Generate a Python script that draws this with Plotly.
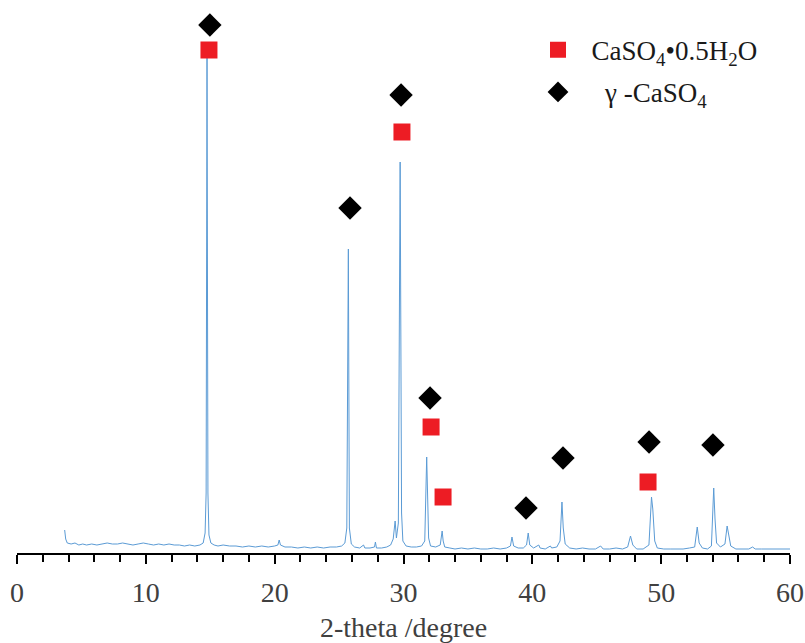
import plotly.graph_objects as go

# XRD pattern (2-theta in degrees, intensity in arbitrary units)
two_theta = [3.70, 3.78, 3.9, 4.2, 4.5, 4.8, 5.1, 5.4, 5.8, 6.2, 6.6, 7.0, 7.4, 7.8, 8.2, 8.6, 9.0, 9.4,
             9.8, 10.2, 10.6, 11.0, 11.4, 11.8, 12.2, 12.6, 13.0, 13.4, 13.8, 14.2, 14.45, 14.6, 14.68, 14.75,
             14.82, 14.9, 15.05, 15.3, 15.6, 16.0, 16.5, 17.0, 17.5, 18.0, 18.5, 19.0, 19.5, 20.0, 20.25,
             20.35, 20.45, 20.8, 21.3, 21.8, 22.3, 22.8, 23.3, 23.8, 24.3, 24.8, 25.2, 25.45, 25.6, 25.72,
             25.8, 25.95, 26.2, 26.6, 26.9, 27.0, 27.4, 27.75, 27.82, 27.9, 28.3, 28.7, 29.0, 29.2, 29.35,
             29.45, 29.6, 29.74, 29.8, 29.85, 29.95, 30.2, 30.6, 31.0, 31.4, 31.65, 31.8, 31.87, 31.95, 32.1,
             32.5, 32.85, 33.0, 33.08, 33.2, 33.6, 34.0, 34.5, 35.0, 35.5, 36.0, 36.5, 37.0, 37.5, 38.0,
             38.3, 38.42, 38.55, 38.9, 39.3, 39.55, 39.68, 39.8, 40.1, 40.5, 40.6, 41.0, 41.4, 41.5, 41.9,
             42.15, 42.3, 42.4, 42.55, 42.9, 43.4, 43.9, 44.4, 44.9, 45.3, 45.5, 46.0, 46.5, 47.0, 47.4,
             47.62, 47.8, 48.1, 48.6, 49.05, 49.25, 49.35, 49.5, 49.7, 50.2, 50.7, 51.2, 51.7, 52.2, 52.6,
             52.8, 52.95, 53.2, 53.6, 53.9, 54.08, 54.18, 54.3, 54.6, 54.95, 55.12, 55.25, 55.4, 55.8, 56.3,
             56.8, 57.1, 57.3, 57.8, 58.3, 58.8, 59.3, 59.8, 60.0]
intensity = [23, 14, 10, 9, 10, 8, 9, 8, 9, 8, 9, 10, 9, 9, 10, 9, 8, 9,
             10, 9, 8, 9, 8, 9, 8, 8, 7, 8, 7, 8, 10, 20, 60, 498,
             60, 18, 10, 8, 7, 8, 7, 7, 6, 7, 6, 7, 6, 7, 8,
             13, 8, 6, 6, 5, 6, 5, 6, 5, 6, 6, 7, 10, 25, 304,
             25, 9, 6, 5, 8, 5, 5, 6, 11, 5, 5, 6, 8, 14, 32,
             15, 30, 391, 203, 40, 12, 7, 6, 6, 7, 12, 96, 61, 15, 7,
             6, 8, 22, 12, 6, 5, 4, 5, 4, 5, 4, 4, 5, 4, 5,
             7, 16, 7, 5, 5, 8, 20, 8, 5, 8, 5, 4, 7, 5, 6,
             12, 51, 25, 9, 5, 4, 5, 4, 4, 7, 4, 4, 5, 4, 6,
             17, 8, 4, 4, 8, 56, 44, 12, 5, 4, 4, 4, 4, 5, 6,
             26, 10, 5, 4, 7, 65, 34, 10, 6, 9, 27, 17, 7, 4, 4,
             4, 6, 4, 4, 4, 4, 4, 4, 4]

# Phase markers
hemihydrate_x = [14.90, 29.88, 32.14, 33.07, 48.98]
hemihydrate_y = [503, 421, 126, 56, 71]
gamma_x = [14.97, 29.81, 25.85, 32.06, 39.51, 42.38, 49.06, 54.02]
gamma_y = [528, 458, 345, 155, 45, 95, 111, 108]

x_ticks = [0, 10, 20, 30, 40, 50, 60]

SERIF = "Liberation Serif, Times New Roman, serif"

fig = go.Figure()
fig.add_trace(go.Scatter(x=two_theta, y=intensity, mode="lines",
                         line=dict(color="#5B9BD5", width=1), showlegend=False,
                         hoverinfo="skip"))
fig.add_trace(go.Scatter(x=hemihydrate_x, y=hemihydrate_y, mode="markers",
                         marker=dict(symbol="square", size=17, color="#ED1C24"),
                         name="\u00a0\u00a0CaSO<sub>4</sub>•0.5H<sub>2</sub>O",
                         legend="legend", cliponaxis=False))
fig.add_trace(go.Scatter(x=gamma_x, y=gamma_y, mode="markers",
                         marker=dict(symbol="diamond", size=18, color="#000000"),
                         name="\u00a0\u00a0\u00a0\u00a0γ -CaSO<sub>4</sub>",
                         legend="legend2", cliponaxis=False))

legend_common = dict(font=dict(family=SERIF, size=27, color="#1a1a1a"),
                     bgcolor="rgba(0,0,0,0)", xanchor="left", yanchor="middle")
fig.update_layout(
    width=805, height=643,
    margin=dict(l=17, r=15, t=0, b=90),
    plot_bgcolor="white", paper_bgcolor="white",
    legend=dict(x=0.674, y=0.909, **legend_common),
    legend2=dict(x=0.674, y=0.833, **legend_common),
    xaxis=dict(range=[0, 60], tickvals=x_ticks, ticktext=[str(v) for v in x_ticks],
               showline=True, linecolor="black", linewidth=1.5,
               ticks="outside", ticklen=9, tickwidth=1.5, tickcolor="black",
               ticklabelstandoff=5,
               minor=dict(dtick=2, ticks="outside", ticklen=7, tickwidth=1.5, tickcolor="black"),
               showgrid=False, zeroline=False,
               tickfont=dict(family=SERIF, size=28, color="#404040"),
               title=dict(text="2-theta /degree", font=dict(family=SERIF, size=28, color="#404040"),
                          standoff=12)),
    yaxis=dict(range=[0, 553], visible=False, showgrid=False, zeroline=False),
)

fig.write_html("out.html")
